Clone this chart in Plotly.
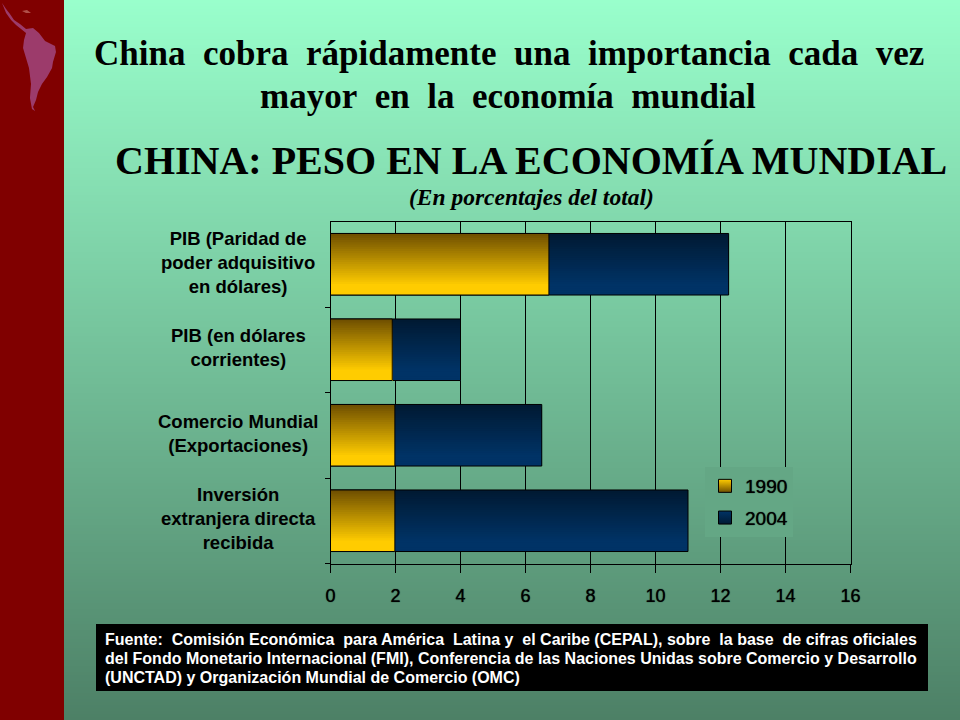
import plotly.graph_objects as go

W, H = 960, 720

categories = [
    "PIB (Paridad de<br>poder adquisitivo<br>en dólares)",
    "PIB (en dólares<br>corrientes)",
    "Comercio Mundial<br>(Exportaciones)",
    "Inversión<br>extranjera directa<br>recibida",
]
years = ["1990", "2004"]
values_1990 = [6.72, 1.9, 1.98, 1.98]
values_2004 = [12.25, 4.0, 6.5, 11.0]
x_ticks = [0, 2, 4, 6, 8, 10, 12, 14, 16]

# the slide spreads its words, nbsp pairs stand in for that
title_lines = [
    "China\u00a0 cobra\u00a0 rápidamente\u00a0 una\u00a0 importancia\u00a0 cada\u00a0 vez",
    "mayor\u00a0 en\u00a0 la\u00a0 economía\u00a0 mundial",
]
chart_title = "CHINA: PESO EN LA ECONOMÍA MUNDIAL"
chart_subtitle = "(En porcentajes del total)"
source_lines = [
    "Fuente:\u00a0 Comisión Económica\u00a0 para América\u00a0 Latina y\u00a0 el Caribe (CEPAL), sobre\u00a0 la base\u00a0 de cifras oficiales",
    "del Fondo Monetario Internacional (FMI), Conferencia de las Naciones Unidas sobre Comercio y Desarrollo",
    "(UNCTAD) y Organización Mundial de Comercio (OMC)",
]


def mix(a, b, t):
    return "rgb(%d,%d,%d)" % tuple(round(a[i] + (b[i] - a[i]) * t) for i in range(3))


def px_path(points):
    # pixel points to a closed path in paper coordinates
    cmds = ["%s %.4f %.4f" % ("M" if i == 0 else "L", x / W, 1 - y / H) for i, (x, y) in enumerate(points)]
    return " ".join(cmds) + " Z"


fig = go.Figure()

# page background, on the first subplot so the chart sits over it
rows = 240
fig.add_trace(go.Heatmap(
    z=[[r / (rows - 1)] * 2 for r in range(rows)],
    x=[0, 1], y=list(range(rows)),
    colorscale=[[0, "#99FFCC"], [1, "#4D8066"]],
    showscale=False, hoverinfo="skip", xaxis="x", yaxis="y",
))

# gradient bars: each strip runs from its own top edge down to the bar's bottom
positions = list(range(len(categories)))
bar_h = 0.72
strips = 28
series = [
    (values_2004, (0, 26, 51), (0, 51, 102)),
    (values_1990, (112, 80, 0), (255, 204, 0)),
]
for vals, top, bottom in series:
    for i in range(strips):
        t = i / (strips - 1)
        fig.add_trace(go.Bar(
            x=vals, y=positions, orientation="h",
            offset=-bar_h / 2 + bar_h * i / strips,
            width=bar_h - bar_h * i / strips,
            marker=dict(color=mix(top, bottom, min(t / 0.85, 1)), line=dict(width=0)),
            showlegend=False, hoverinfo="skip", xaxis="x2", yaxis="y2",
        ))
    fig.add_trace(go.Bar(
        x=vals, y=positions, orientation="h", offset=-bar_h / 2, width=bar_h,
        marker=dict(color="rgba(0,0,0,0)", line=dict(color="black", width=1)),
        showlegend=False, hoverinfo="skip", xaxis="x2", yaxis="y2",
    ))

# legend swatches
for name, top, bottom in [("1990", "#705000", "#FFCC00"), ("2004", "#001A33", "#003366")]:
    fig.add_trace(go.Scatter(
        x=[None], y=[None], mode="markers", name=name, legendgroup=name,
        marker=dict(symbol="square", size=13, color=bottom,
                    gradient=dict(type="vertical", color=top),
                    line=dict(color="black", width=1)),
        xaxis="x2", yaxis="y2",
    ))

shapes = [
    dict(type="rect", xref="paper", yref="paper", x0=0, x1=64 / W, y0=0, y1=1,
         fillcolor="#800000", line_width=0),
    dict(type="path", xref="paper", yref="paper", fillcolor="#9C3B6B", line_width=0, path=px_path([
        (2, 3), (6, 9), (10, 14), (14, 20), (20, 24), (26, 29), (33, 28), (39, 33), (45, 41), (55, 46),
        (56, 52), (53, 62), (52, 68), (47, 77), (42, 84), (38, 92), (36, 100), (33, 107), (35, 111),
        (32, 109), (30, 98), (31, 84), (29, 68), (26, 58), (23, 48), (24, 40), (26, 33), (21, 29),
        (16, 25), (11, 20), (6, 13),
    ])),
    dict(type="path", xref="paper", yref="paper", fillcolor="#B0504A", line_width=0, path=px_path([
        (22, 11), (27, 10), (31, 13), (26, 13),
    ])),
    dict(type="rect", xref="paper", yref="paper", x0=96 / W, x1=928 / W, y0=1 - 691 / H, y1=1 - 624 / H,
         fillcolor="black", line_width=0),
]
shapes = [dict(s, layer="above") for s in shapes]

annotations = []


def text(x, y, s, family, size, color="black", anchor="center", italic=False, yref="paper", yshift=0):
    annotations.append(dict(
        x=x / W, y=1 - y / H if yref == "paper" else y, xref="paper", yref=yref, text=s, showarrow=False,
        xanchor=anchor, yanchor="middle", align="center", yshift=yshift,
        font=dict(family=family, size=size, color=color, weight="bold", style="italic" if italic else "normal"),
    ))


text(509, 54, title_lines[0], "Liberation Serif", 35)
text(508, 97, title_lines[1], "Liberation Serif", 35)
text(531, 160, chart_title, "Liberation Serif", 40)
text(531, 197, chart_subtitle, "Liberation Serif", 23.5, italic=True)

for pos, label in zip(positions, categories):
    text(238, pos, label, "Liberation Sans", 18.5, yref="y2", yshift=2)

for y, line in zip([639, 658, 677], source_lines):
    text(103, y, line, "Liberation Sans", 16, color="white", anchor="left")

fig.update_layout(
    width=W, height=H, margin=dict(l=0, r=0, t=0, b=0, autoexpand=False), autosize=False,
    paper_bgcolor="#4D8066", plot_bgcolor="rgba(0,0,0,0)",
    barmode="overlay", shapes=shapes, annotations=annotations,
    xaxis=dict(domain=[0, 1], range=[0, 1], visible=False, fixedrange=True),
    yaxis=dict(domain=[0, 1], range=[rows - 0.5, -0.5], visible=False, fixedrange=True),
    xaxis2=dict(
        domain=[330.5 / W, 850.5 / W], range=[0, 16], anchor="y2",
        tickvals=x_ticks, ticks="outside", ticklen=8, tickcolor="black",
        showgrid=True, gridcolor="black", gridwidth=1, zeroline=False,
        showline=True, linecolor="black", linewidth=1, mirror=True,
        tickfont=dict(family="Liberation Sans", size=18, color="black", shadow="0 0 1px black"),
        ticklabelstandoff=8,
    ),
    yaxis2=dict(
        domain=[1 - 563.5 / H, 1 - 221.5 / H], range=[3.5, -0.5], anchor="x2",
        tickvals=positions, ticks="", showticklabels=False, showgrid=False, zeroline=False,
        showline=True, linecolor="black", linewidth=1, mirror=True,
        minor=dict(tickvals=[0.5, 1.5, 2.5, 3.5], ticks="outside", ticklen=5, tickcolor="black", showgrid=False),
    ),
    legend=dict(
        x=705 / W, y=1 - 467 / H, xanchor="left", yanchor="top",
        bgcolor="#64A785", borderwidth=0, tracegroupgap=4,
        font=dict(family="Liberation Sans", size=19, color="black", shadow="0 0 1px black"),
    ),
)

# no page margin, so the 960x720 figure fills the window
fig.write_html("out.html", post_script="document.body.style.margin='0';",
               config=dict(displayModeBar=False))
